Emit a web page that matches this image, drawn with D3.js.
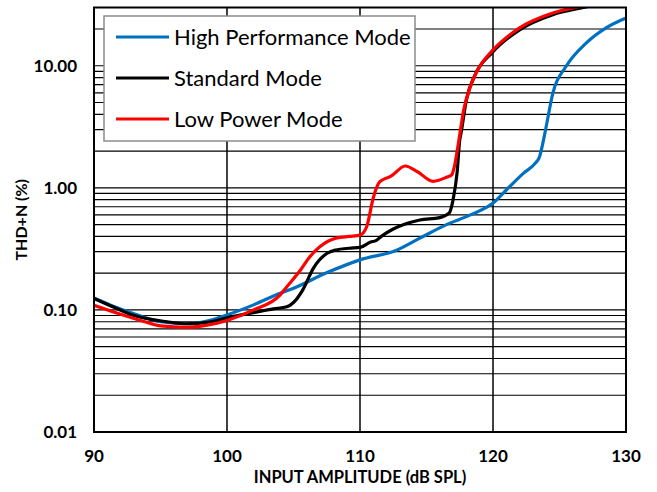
<!DOCTYPE html>
<html>
<head>
<meta charset="utf-8">
<script src="https://cdn.jsdelivr.net/npm/d3@7"></script>
<style>
  html, body { margin: 0; padding: 0; background: #fff; overflow: hidden; }
  svg { display: block; }
</style>
</head>
<body>
<div id="plot"></div>
<script>
const w = 657;
const h = 492;
const margin = { top: 7.5, right: 31, bottom: 60, left: 94 };
const innerWidth = w - margin.left - margin.right;
const innerHeight = h - margin.top - margin.bottom;

// [input dB SPL, THD+N %]
const highPerf = [
  [90, 0.125], [91.2, 0.11], [92.9, 0.094], [95, 0.080], [97, 0.077], [98.5, 0.081],
  [100, 0.091], [102, 0.11], [104, 0.137], [104.7, 0.146], [107.7, 0.206], [110, 0.257],
  [112.8, 0.31], [114.5, 0.387], [116.5, 0.50], [118.3, 0.60], [120, 0.75], [121, 0.96],
  [122.3, 1.32], [123.2, 1.6], [123.5, 1.8], [123.8, 2.47], [124, 3.18], [124.5, 5.97],
  [125.5, 9.9], [127, 15.3], [128.5, 20.4], [130, 24.6]
];
const standard = [
  [90, 0.124], [91.5, 0.105], [93, 0.09], [95.5, 0.080], [97, 0.077], [98.5, 0.079],
  [100, 0.086], [102, 0.095], [103.5, 0.102], [104.5, 0.106], [105, 0.115], [105.7, 0.146],
  [106.5, 0.22], [107.5, 0.29], [108.2, 0.31], [109.2, 0.32], [110, 0.325], [110.8, 0.36],
  [111.2, 0.37], [111.6, 0.40], [112.5, 0.46], [113.3, 0.50], [114.5, 0.545], [116, 0.57],
  [116.7, 0.62], [117, 0.80], [117.3, 1.33], [117.5, 2.47], [117.6, 2.82], [118, 5.26],
  [118.6, 8.2], [119.9, 12.7], [122, 19.7], [124.5, 26.2], [126.8, 30], [128, 32]
];
const lowPower = [
  [90, 0.109], [92, 0.092], [93.5, 0.082], [95, 0.074], [97, 0.072], [98.5, 0.075],
  [100, 0.082], [102, 0.10], [104, 0.133], [104.5, 0.155], [105.5, 0.21], [106.2, 0.27],
  [107, 0.33], [108.2, 0.387], [109.2, 0.40], [110, 0.41], [110.5, 0.48], [111, 0.83],
  [111.4, 1.09], [111.75, 1.17], [112.3, 1.24], [113.4, 1.51], [114.3, 1.36], [115.5, 1.13],
  [116.5, 1.22], [116.9, 1.28], [117.1, 1.5], [117.4, 2.32], [117.8, 4.36], [118.3, 6.77],
  [119, 9.87], [119.9, 13.1], [122, 20.4], [124.5, 27.0], [126.5, 30.5], [128, 32]
];

const seriesNames = ["High Performance Mode", "Standard Mode", "Low Power Mode"];
const seriesColors = ["#0070C0", "#000000", "#FF0000"];
const xTicks = [90, 100, 110, 120, 130];
const yTicks = [0.01, 0.1, 1, 10];

const font = "Lato, 'Open Sans', sans-serif";

const svg = d3.select("div#plot")
  .append("svg")
  .attr("width", w)
  .attr("height", h);

const xScale = d3.scaleLinear()
  .domain([90, 130])
  .range([0, innerWidth]);

const yScale = d3.scaleLog()
  .domain([0.01, 30])
  .range([innerHeight, 0]);

const g = svg.append("g")
  .attr("transform", `translate(${margin.left}, ${margin.top})`);

// horizontal grid: every 1..9 per decade
const gridY = [];
[0.01, 0.1, 1, 10].forEach(dec => {
  for (let k = 1; k <= 9; k++) {
    const v = dec * k;
    if (v <= 30) gridY.push(v);
  }
});

g.selectAll("line.hgrid")
  .data(gridY)
  .enter()
  .append("line")
  .attr("class", "hgrid")
  .attr("x1", 0)
  .attr("x2", innerWidth)
  .attr("y1", d => yScale(d))
  .attr("y2", d => yScale(d))
  .attr("stroke", "#000")
  .attr("stroke-width", 1.2);

g.selectAll("line.vgrid")
  .data(xTicks)
  .enter()
  .append("line")
  .attr("class", "vgrid")
  .attr("x1", d => xScale(d))
  .attr("x2", d => xScale(d))
  .attr("y1", 0)
  .attr("y2", innerHeight)
  .attr("stroke", "#000")
  .attr("stroke-width", 1.5);

g.append("clipPath")
  .attr("id", "clip")
  .append("rect")
  .attr("width", innerWidth)
  .attr("height", innerHeight);

const line = d3.line()
  .x(d => xScale(d[0]))
  .y(d => yScale(d[1]))
  .curve(d3.curveMonotoneX);

const allSeries = [highPerf, standard, lowPower];

// blue first, then black, red on top
g.append("g")
  .attr("clip-path", "url(#clip)")
  .selectAll("path")
  .data(allSeries)
  .enter()
  .append("path")
  .attr("d", line)
  .attr("fill", "none")
  .attr("stroke", (d, i) => seriesColors[i])
  .attr("stroke-width", 3.2)
  .attr("stroke-linejoin", "round");

// frame
g.append("rect")
  .attr("width", innerWidth)
  .attr("height", innerHeight)
  .attr("fill", "none")
  .attr("stroke", "#000")
  .attr("stroke-width", 2);

// tick labels
g.selectAll("text.ylab")
  .data(yTicks)
  .enter()
  .append("text")
  .attr("class", "ylab")
  .attr("x", -17)
  .attr("y", d => yScale(d))
  .attr("dy", "0.35em")
  .attr("text-anchor", "end")
  .attr("font-family", font)
  .attr("font-weight", "bold")
  .attr("font-size", "17px")
  .attr("fill", "#000")
  .text(d3.format(".2f"));

g.selectAll("text.xlab")
  .data(xTicks)
  .enter()
  .append("text")
  .attr("class", "xlab")
  .attr("x", d => xScale(d))
  .attr("y", innerHeight + 30)
  .attr("text-anchor", "middle")
  .attr("font-family", font)
  .attr("font-weight", "bold")
  .attr("font-size", "17px")
  .attr("fill", "#000")
  .text(d => d);

// axis titles
svg.append("text")
  .attr("x", margin.left + innerWidth / 2)
  .attr("y", h - 9)
  .attr("text-anchor", "middle")
  .attr("font-family", font)
  .attr("font-weight", "bold")
  .attr("font-size", "16.5px")
  .text("INPUT AMPLITUDE (dB SPL)");

svg.append("text")
  .attr("transform", "rotate(-90)")
  .attr("x", -(margin.top + innerHeight / 2))
  .attr("y", 27)
  .attr("text-anchor", "middle")
  .attr("font-family", font)
  .attr("font-weight", "bold")
  .attr("font-size", "16px")
  .text("THD+N (%)");

// legend
const legend = svg.append("g")
  .attr("transform", "translate(104, 16)");

legend.append("rect")
  .attr("width", 311)
  .attr("height", 125)
  .attr("fill", "#fff")
  .attr("stroke", "#8c8c8c")
  .attr("stroke-width", 1.5);

const rows = legend.selectAll("g.row")
  .data(seriesNames)
  .enter()
  .append("g")
  .attr("class", "row")
  .attr("transform", (d, i) => `translate(0, ${21 + i * 41})`);

rows.append("line")
  .attr("x1", 12)
  .attr("x2", 65)
  .attr("stroke", (d, i) => seriesColors[i])
  .attr("stroke-width", 3.2);

rows.append("text")
  .attr("x", 70)
  .attr("dy", "0.35em")
  .attr("font-family", font)
  .attr("font-size", "22px")
  .attr("fill", "#000")
  .text(d => d);
</script>
</body>
</html>
